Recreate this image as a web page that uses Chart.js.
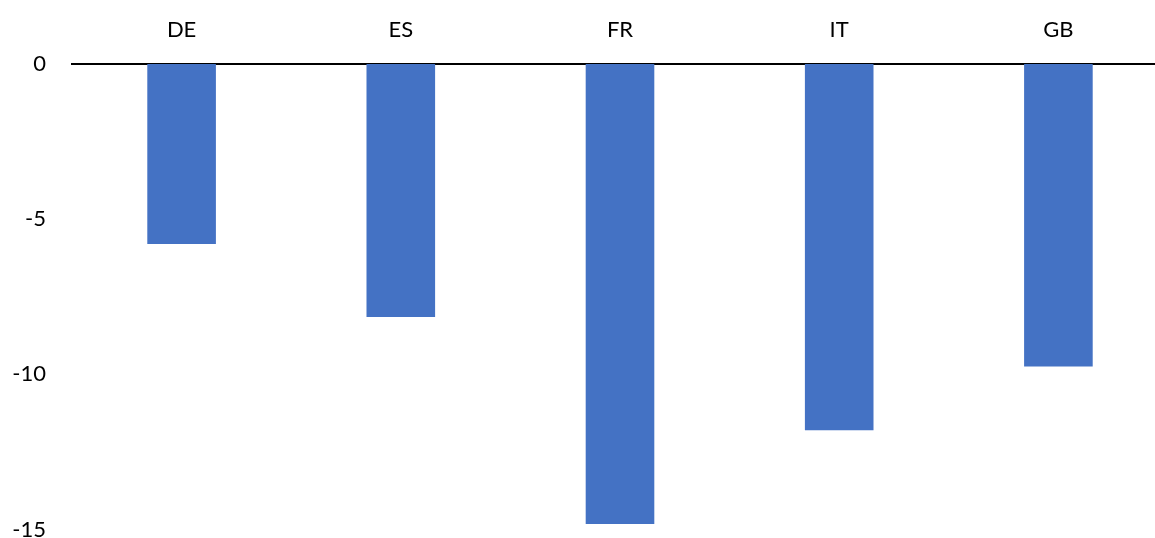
<!DOCTYPE html>
<html>
<head>
<meta charset="utf-8">
<script src="https://cdn.jsdelivr.net/npm/chart.js@4/dist/chart.umd.min.js"></script>
<style>
  html, body { margin: 0; padding: 0; background: #fff; overflow: hidden; }
  #wrap { width: 1168px; height: 538px; }
</style>
</head>
<body>
<div id="wrap"><canvas id="c" width="1168" height="538"></canvas></div>
<script>
// Country codes shown along the top axis
const countries = ['DE', 'ES', 'FR', 'IT', 'GB'];
// Change per country (negative values hang below the zero line)
const values = [-5.8, -8.15, -14.82, -11.8, -9.75];
// Value axis tick marks
const yTicks = [0, -5, -10, -15];

const labelFont = { family: 'Lato, "Open Sans", sans-serif', size: 22 };

new Chart(document.getElementById('c'), {
  type: 'bar',
  data: {
    labels: countries,
    datasets: [{
      data: values,
      backgroundColor: '#4472C4',
      borderWidth: 0,
      barPercentage: 0.313,
      categoryPercentage: 1.0
    }]
  },
  options: {
    responsive: false,
    animation: false,
    layout: { padding: { top: 0, bottom: 8.5, left: 0, right: 0 } },
    plugins: { legend: { display: false }, tooltip: { enabled: false } },
    scales: {
      x: {
        position: 'top',
        grid: { display: false, drawTicks: false },
        border: { display: true, color: '#000000', width: 2 },
        ticks: { color: '#000000', font: labelFont, padding: 21 },
        afterFit: s => { s.height = 64; s.paddingLeft = 0; s.paddingRight = 0; }
      },
      y: {
        min: Math.min(...yTicks),
        max: Math.max(...yTicks),
        afterBuildTicks: s => { s.ticks = yTicks.map(v => ({ value: v })); },
        grid: { display: false, drawTicks: false },
        border: { display: false },
        ticks: { color: '#000000', font: labelFont, padding: 26 },
        afterFit: s => { s.width = 72; s.paddingTop = 0; s.paddingBottom = 0; }
      }
    }
  }
});
</script>
</body>
</html>
